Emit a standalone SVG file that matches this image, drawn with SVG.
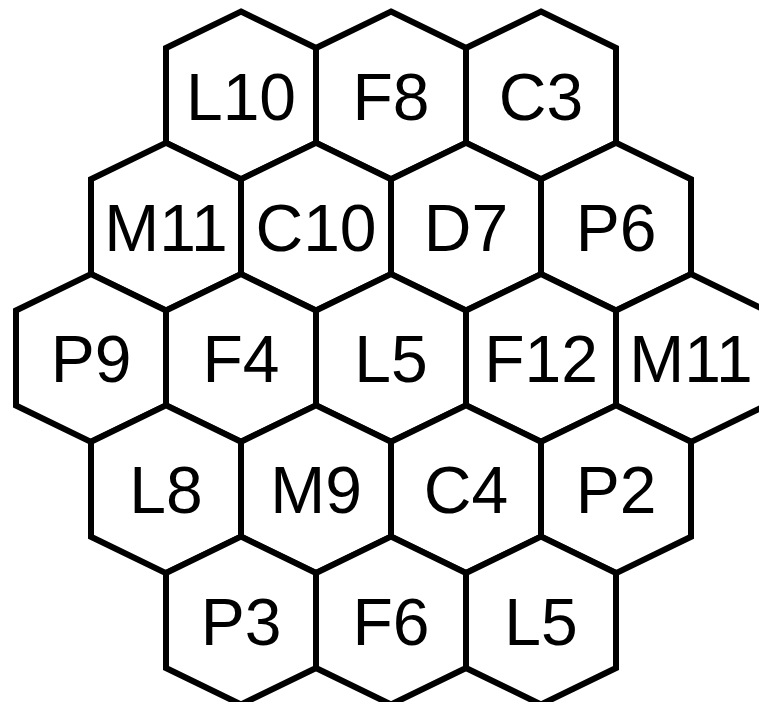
<svg xmlns="http://www.w3.org/2000/svg" xmlns:xlink="http://www.w3.org/1999/xlink" width="759" height="702" viewBox="0 0 759 702">
<style>
.hex{fill:#ffffff;stroke:#000000;stroke-width:6;stroke-linejoin:miter}
.lbl{font-family:"Liberation Sans",Arial,sans-serif;font-size:66px;fill:#000000;text-anchor:middle}
</style>
<defs>
<polygon id="hx" points="0,-84 75,-47.5 75,47.5 0,84 -75,47.5 -75,-47.5"/>
</defs>
<rect width="759" height="702" fill="#ffffff"/>
<g id="connectors"></g>
<g id="n-L10" transform="translate(241,95.5)"><use xlink:href="#hx" class="hex"/><text class="lbl" y="24">L10</text></g>
<g id="n-F8" transform="translate(391,95.5)"><use xlink:href="#hx" class="hex"/><text class="lbl" y="24">F8</text></g>
<g id="n-C3" transform="translate(541,95.5)"><use xlink:href="#hx" class="hex"/><text class="lbl" y="24">C3</text></g>
<g id="n-M11a" transform="translate(166,226.75)"><use xlink:href="#hx" class="hex"/><text class="lbl" y="24">M11</text></g>
<g id="n-C10" transform="translate(316,226.75)"><use xlink:href="#hx" class="hex"/><text class="lbl" y="24">C10</text></g>
<g id="n-D7" transform="translate(466,226.75)"><use xlink:href="#hx" class="hex"/><text class="lbl" y="24">D7</text></g>
<g id="n-P6" transform="translate(616,226.75)"><use xlink:href="#hx" class="hex"/><text class="lbl" y="24">P6</text></g>
<g id="n-P9" transform="translate(91,358)"><use xlink:href="#hx" class="hex"/><text class="lbl" y="24">P9</text></g>
<g id="n-F4" transform="translate(241,358)"><use xlink:href="#hx" class="hex"/><text class="lbl" y="24">F4</text></g>
<g id="n-L5a" transform="translate(391,358)"><use xlink:href="#hx" class="hex"/><text class="lbl" y="24">L5</text></g>
<g id="n-F12" transform="translate(541,358)"><use xlink:href="#hx" class="hex"/><text class="lbl" y="24">F12</text></g>
<g id="n-M11b" transform="translate(691,358)"><use xlink:href="#hx" class="hex"/><text class="lbl" y="24">M11</text></g>
<g id="n-L8" transform="translate(166,489.25)"><use xlink:href="#hx" class="hex"/><text class="lbl" y="24">L8</text></g>
<g id="n-M9" transform="translate(316,489.25)"><use xlink:href="#hx" class="hex"/><text class="lbl" y="24">M9</text></g>
<g id="n-C4" transform="translate(466,489.25)"><use xlink:href="#hx" class="hex"/><text class="lbl" y="24">C4</text></g>
<g id="n-P2" transform="translate(616,489.25)"><use xlink:href="#hx" class="hex"/><text class="lbl" y="24">P2</text></g>
<g id="n-P3" transform="translate(241,620.5)"><use xlink:href="#hx" class="hex"/><text class="lbl" y="24">P3</text></g>
<g id="n-F6" transform="translate(391,620.5)"><use xlink:href="#hx" class="hex"/><text class="lbl" y="24">F6</text></g>
<g id="n-L5b" transform="translate(541,620.5)"><use xlink:href="#hx" class="hex"/><text class="lbl" y="24">L5</text></g>
</svg>
